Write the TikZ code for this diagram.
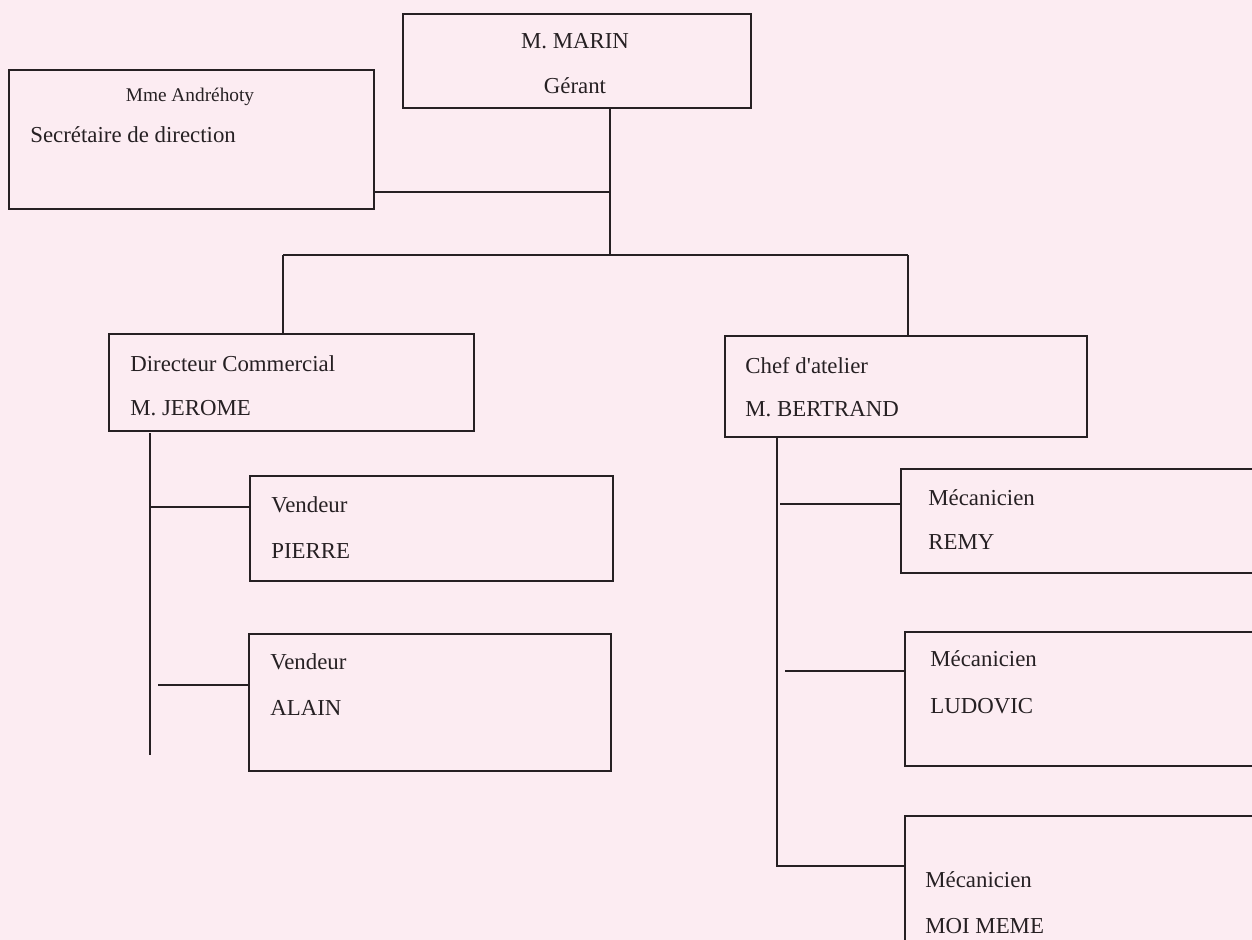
\documentclass[tikz,border=0pt]{standalone}
\usepackage{fontspec}
\setmainfont{Liberation Serif}
\definecolor{scanpink}{RGB}{252,236,242}
\definecolor{inkgray}{RGB}{38,32,35}
\tikzset{
  orgbox/.style={draw=inkgray, line width=0.9pt, anchor=north west, inner sep=0pt},
  orgtext/.style={anchor=west, inner sep=0pt, font=\fontsize{13}{15}\selectfont, text=inkgray},
  orgline/.style={draw=inkgray, line width=0.9pt},
}

\begin{document}
\begin{tikzpicture}[x=0.02cm, y=-0.02cm]
		% Page.
		\fill[scanpink] (0,0) rectangle (1252,940);
		\useasboundingbox (0,0) rectangle (1252,940);

		% Boxes.
		\node[orgbox, minimum width=6.96cm, minimum height=1.88cm] (marin) at (402,13) {};
		\node[orgbox, minimum width=7.30cm, minimum height=2.78cm] (secr) at (8,69) {};
		\node[orgbox, minimum width=7.30cm, minimum height=1.94cm] (dircom) at (108,333) {};
		\node[orgbox, minimum width=7.24cm, minimum height=2.02cm] (chef) at (724,335) {};
		\node[orgbox, minimum width=7.26cm, minimum height=2.10cm] (pierre) at (249,475) {};
		\node[orgbox, minimum width=7.24cm, minimum height=2.74cm] (alain) at (248,633) {};
		\node[orgbox, minimum width=8.00cm, minimum height=2.08cm] (remy) at (900,468) {};
		\node[orgbox, minimum width=8.00cm, minimum height=2.68cm] (ludovic) at (904,631) {};
		\node[orgbox, minimum width=8.00cm, minimum height=4.00cm] (moi) at (904,815) {};

		% Texts.
		\node[orgtext, anchor=center] (marin-a) at (575,41) {M. MARIN};
		\node[orgtext, anchor=center] (marin-b) at (575,86) {Gérant};
		\node[orgtext, anchor=center, font=\fontsize{11}{13}\selectfont] (secr-a) at (190,97) {Mme Andréhoty};
		\node[orgtext] (secr-b) at (30,135) {Secrétaire de direction};
		\node[orgtext] (dircom-a) at (130,364) {Directeur Commercial};
		\node[orgtext] (dircom-b) at (130,408) {M. JEROME};
		\node[orgtext] (chef-a) at (745,366) {Chef d\textquotesingle atelier};
		\node[orgtext] (chef-b) at (745,409) {M. BERTRAND};
		\node[orgtext] (pierre-a) at (271,505) {Vendeur};
		\node[orgtext] (pierre-b) at (271,551) {PIERRE};
		\node[orgtext] (alain-a) at (270,662) {Vendeur};
		\node[orgtext] (alain-b) at (270,708) {ALAIN};
		\node[orgtext] (remy-a) at (928,498) {Mécanicien};
		\node[orgtext] (remy-b) at (928,542) {REMY};
		\node[orgtext] (ludovic-a) at (930,659) {Mécanicien};
		\node[orgtext] (ludovic-b) at (930,706) {LUDOVIC};
		\node[orgtext] (moi-a) at (925,880) {Mécanicien};
		\node[orgtext] (moi-b) at (925,926) {MOI MEME};

		% Junctions.
		\coordinate (top) at (610,255);
		\coordinate (secr-j) at (610,192);
		\coordinate (bar-l) at (283,255);
		\coordinate (bar-r) at (908,255);
		\coordinate (ltrunk-a) at (150,433);
		\coordinate (ltrunk-b) at (150,755);
		\coordinate (pierre-j) at (150,507);
		\coordinate (alain-j) at (158,685);
		\coordinate (rtrunk-a) at (777,436);
		\coordinate (rtrunk-b) at (777,866);
		\coordinate (remy-j) at (780,504);
		\coordinate (ludovic-j) at (785,671);

		% Connectors.
		\draw[orgline] (marin.south -| top) -- (top);
		\draw[orgline] (secr.east |- secr-j) -- (secr-j);
		\draw[orgline] (bar-l) -- (bar-r);
		\draw[orgline] (bar-l) -- (dircom.north -| bar-l);
		\draw[orgline] (bar-r) -- (chef.north -| bar-r);
		\draw[orgline] (ltrunk-a) -- (ltrunk-b);
		\draw[orgline] (pierre-j) -- (pierre.west |- pierre-j);
		\draw[orgline] (alain-j) -- (alain.west |- alain-j);
		\draw[orgline] (rtrunk-a) -- (rtrunk-b) -- (moi.west |- rtrunk-b);
		\draw[orgline] (remy-j) -- (remy.west |- remy-j);
		\draw[orgline] (ludovic-j) -- (ludovic.west |- ludovic-j);
	\end{tikzpicture}
\end{document}
